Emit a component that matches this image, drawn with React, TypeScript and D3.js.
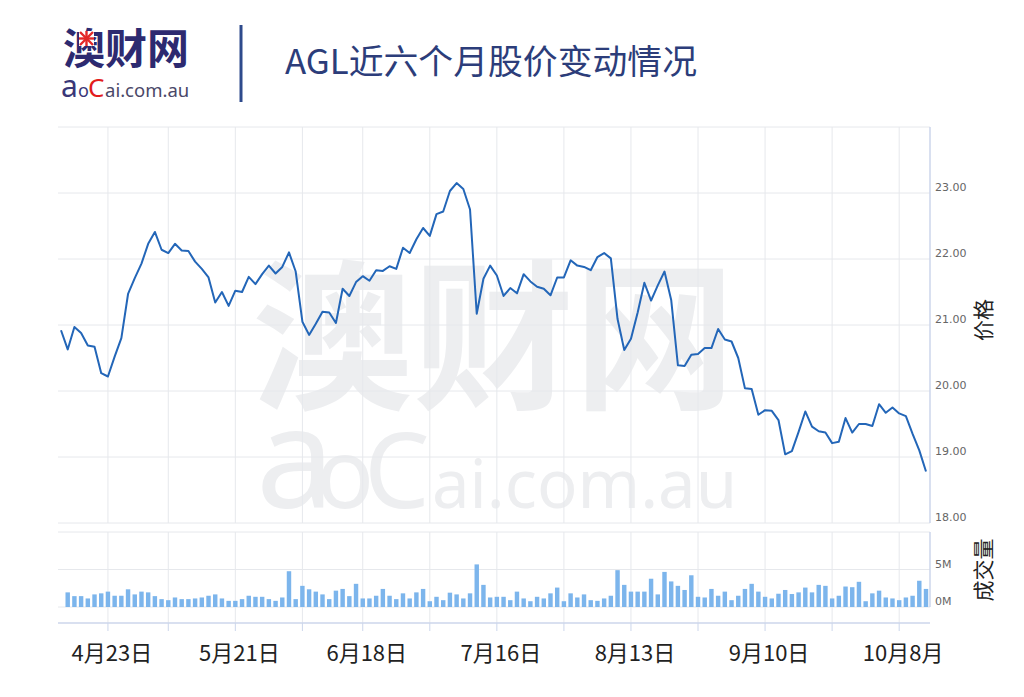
import React from 'react';
import * as d3 from 'd3';

// ASX trading days, 12 Apr – 12 Oct 2018 (Anzac Day and Queen's Birthday closed)
const tradingMonths: [number, number[]][] = [
  [4, [12, 13, 16, 17, 18, 19, 20, 23, 24, 26, 27, 30]],
  [5, [1, 2, 3, 4, 7, 8, 9, 10, 11, 14, 15, 16, 17, 18, 21, 22, 23, 24, 25, 28, 29, 30, 31]],
  [6, [1, 4, 5, 6, 7, 8, 12, 13, 14, 15, 18, 19, 20, 21, 22, 25, 26, 27, 28, 29]],
  [7, [2, 3, 4, 5, 6, 9, 10, 11, 12, 13, 16, 17, 18, 19, 20, 23, 24, 25, 26, 27, 30, 31]],
  [8, [1, 2, 3, 6, 7, 8, 9, 10, 13, 14, 15, 16, 17, 20, 21, 22, 23, 24, 27, 28, 29, 30, 31]],
  [9, [3, 4, 5, 6, 7, 10, 11, 12, 13, 14, 17, 18, 19, 20, 21, 24, 25, 26, 27, 28]],
  [10, [1, 2, 3, 4, 5, 8, 9, 10, 11, 12]],
];
const dates = tradingMonths.flatMap(([m, days]) => days.map((d) => `${m}-${d}`));

// closing price (AUD)
const prices = [
  20.92, 20.63, 20.97, 20.88, 20.69, 20.67, 20.27, 20.22, 20.52, 20.8,
  21.47, 21.71, 21.93, 22.23, 22.41, 22.14, 22.09, 22.23, 22.13, 22.12,
  21.96, 21.85, 21.72, 21.34, 21.5, 21.29, 21.52, 21.5, 21.73, 21.62,
  21.77, 21.9, 21.78, 21.88, 22.1, 21.81, 21.05, 20.85, 21.02, 21.2,
  21.19, 21.03, 21.55, 21.44, 21.65, 21.74, 21.67, 21.83, 21.82, 21.89,
  21.85, 22.17, 22.09, 22.3, 22.47, 22.35, 22.68, 22.72, 23.03, 23.15,
  23.06, 22.75, 21.17, 21.7, 21.9, 21.75, 21.44, 21.56, 21.48, 21.77,
  21.66, 21.58, 21.55, 21.45, 21.72, 21.72, 21.98, 21.9, 21.88, 21.83,
  22.03, 22.09, 22.01, 21.09, 20.62, 20.79, 21.19, 21.64, 21.37, 21.6,
  21.81, 21.38, 20.39, 20.38, 20.55, 20.56, 20.65, 20.65, 20.94, 20.78,
  20.75, 20.5, 20.04, 20.03, 19.64, 19.71, 19.7, 19.56, 19.04, 19.09,
  19.38, 19.69, 19.46, 19.39, 19.37, 19.21, 19.23, 19.59, 19.37, 19.5,
  19.5, 19.47, 19.8, 19.67, 19.75, 19.66, 19.62, 19.35, 19.1, 18.78,
];

// volume (millions of shares)
const volumes = [
  0, 1.95, 1.45, 1.45, 1.14, 1.68, 1.82, 2.05, 1.5, 1.5,
  2.36, 1.68, 2.05, 1.95, 1.45, 1.05, 0.91, 1.27, 1.05, 1.05,
  1.14, 1.27, 1.5, 1.68, 1.14, 0.82, 0.82, 1.05, 1.5, 1.36,
  1.36, 1.05, 0.82, 1.27, 4.77, 1.05, 2.82, 2.36, 2.05, 1.68,
  1.05, 2.18, 2.41, 1.45, 3.09, 1.14, 1.14, 1.5, 2.41, 1.5,
  1.05, 1.82, 1.14, 1.95, 2.41, 0.77, 1.36, 0.91, 1.91, 1.68,
  1.14, 1.82, 5.68, 2.95, 1.27, 1.36, 1.36, 0.91, 2.05, 1.14,
  0.77, 1.36, 1.14, 1.82, 2.59, 0.77, 1.82, 1.27, 1.68, 0.91,
  0.82, 1.14, 1.5, 4.91, 2.95, 2.05, 2.05, 2.05, 3.77, 1.68,
  4.68, 3.41, 2.82, 2.27, 4.23, 1.36, 1.27, 2.41, 1.5, 2.05,
  0.91, 1.5, 2.41, 3.09, 2.05, 1.36, 1.14, 1.77, 2.27, 1.73,
  1.95, 2.59, 1.95, 2.95, 2.82, 1.14, 1.5, 2.73, 2.64, 3.36,
  0.77, 1.82, 2.18, 1.27, 1.14, 0.91, 1.27, 1.5, 3.5, 2.41,
];

const gridDates = ['4-23', '5-7', '5-21', '6-4', '6-18', '7-2', '7-16', '7-30', '8-13', '8-27', '9-10', '9-24', '10-8'];
const labelDates = ['4-23', '5-21', '6-18', '7-16', '8-13', '9-10', '10-8'];
const labelTexts = ['4月23日', '5月21日', '6月18日', '7月16日', '8月13日', '9月10日', '10月8月'];

const priceTicks = [18, 19, 20, 21, 22, 23, 24];
const volumeTicks = [0, 5, 10];
const volumeTickLabels = ['0M', '5M', ''];

const CJK = '"Noto Sans CJK SC", "Noto Sans", sans-serif';
const LATIN = '"Noto Sans", sans-serif';
const NUM = '"DejaVu Sans", sans-serif';

export default function App() {
  const left = 58;
  const right = 930;

  const x = d3.scalePoint<string>().domain(dates).range([61, 926]);
  const yPrice = d3.scaleLinear().domain([18, 24]).range([523, 127]);
  const yVol = d3.scaleLinear().domain([0, 10]).range([607, 532]);
  const barW = x.step() * 0.66;

  const line = d3
    .line<number>()
    .x((_, i) => x(dates[i])!)
    .y((d) => yPrice(d));

  return (
    <div style={{ position: 'absolute', left: 0, top: 0 }}>
      <svg width={1024} height={697} style={{ display: 'block', background: '#fff' }}>
        {/* header: logo */}
        <text x={63} y={64} fontFamily={CJK} fontWeight="bold" fontSize={42} fill="#2d2a70">
          澳财网
        </text>
        <rect x={79} y={31} width={15} height={15} fill="#fff" />
        <g stroke="#e32828" strokeWidth={2.4}>
          <line x1={80} y1={32} x2={93} y2={45} />
          <line x1={93} y1={32} x2={80} y2={45} />
          <line x1={86.5} y1={31} x2={86.5} y2={46} />
          <line x1={79} y1={38.5} x2={94} y2={38.5} />
        </g>
        <text y={97} fontFamily={LATIN}>
          <tspan x={61} fontSize={30} fill="#3a3778">a</tspan>
          <tspan x={78} fontSize={18} fill="#3a3778">o</tspan>
          <tspan x={88} fontSize={26} fill="#e21d1d">C</tspan>
          <tspan x={105} fontSize={18.5} fill="#4a4868">ai.com.au</tspan>
        </text>
        <line x1={241} y1={25} x2={241} y2={102} stroke="#2e4a8c" strokeWidth={3} />
        <text x={285} y={74} fontFamily={CJK} fontSize={34} fill="#2c3d7a" textLength={412} lengthAdjust="spacingAndGlyphs">
          AGL近六个月股价变动情况
        </text>

        {/* watermark */}
        <text fill="#edeef0" fontFamily={LATIN}>
          <tspan x={252} y={397} fontFamily={CJK} fontWeight="bold" fontSize={161}>
            澳财网
          </tspan>
          <tspan x={256} y={508} fontSize={140}>a</tspan>
          <tspan x={316} y={508} fontSize={96}>o</tspan>
          <tspan x={364} y={508} fontSize={104}>C</tspan>
          <tspan x={432} y={508} fontSize={67}>ai.com.au</tspan>
        </text>

        {/* grid */}
        <g stroke="#e6e8ec" strokeWidth={1}>
          {priceTicks.map((t) => (
            <line key={`hp${t}`} x1={left} x2={right} y1={yPrice(t)} y2={yPrice(t)} />
          ))}
          {gridDates.map((d) => (
            <line key={`vp${d}`} x1={x(d)} x2={x(d)} y1={127} y2={523} />
          ))}
          {volumeTicks.map((t) => (
            <line key={`hv${t}`} x1={left} x2={right} y1={yVol(t)} y2={yVol(t)} />
          ))}
          {gridDates.map((d) => (
            <line key={`vv${d}`} x1={x(d)} x2={x(d)} y1={532} y2={623} />
          ))}
        </g>

        {/* axis lines */}
        <g stroke="#ccd6eb" strokeWidth={1.5}>
          <line x1={right} x2={right} y1={127} y2={523} />
          <line x1={right} x2={right} y1={532} y2={607} />
          <line x1={left} x2={right} y1={623} y2={623} />
          {gridDates.map((d) => (
            <line key={`tk${d}`} x1={x(d)} x2={x(d)} y1={623} y2={631} strokeWidth={1} />
          ))}
        </g>

        {/* volume bars */}
        <g fill="#7cb5ec">
          {volumes.map((v, i) =>
            v > 0 ? (
              <rect key={i} x={x(dates[i])! - barW / 2} width={barW} y={yVol(v)} height={yVol(0) - yVol(v)} />
            ) : null
          )}
        </g>

        {/* price line */}
        <path d={line(prices) ?? ''} fill="none" stroke="#2366b8" strokeWidth={2} strokeLinejoin="round" />

        {/* right axis labels */}
        <g fontFamily={NUM} fontSize={11} fill="#666">
          {priceTicks.slice(0, 6).map((t) => (
            <text key={`pl${t}`} x={935} y={yPrice(t) - 2}>
              {d3.format('.2f')(t)}
            </text>
          ))}
          {volumeTicks.map((t, i) => (
            <text key={`vl${t}`} x={935} y={yVol(t) - 2}>
              {volumeTickLabels[i]}
            </text>
          ))}
        </g>
        <text transform="translate(991,320) rotate(-90)" textAnchor="middle" fontFamily={CJK} fontSize={21} fill="#222">
          价格
        </text>
        <text transform="translate(991,570) rotate(-90)" textAnchor="middle" fontFamily={CJK} fontSize={21} fill="#222">
          成交量
        </text>

        {/* x labels */}
        <g fontFamily={CJK} fontSize={22} fill="#222" textAnchor="middle">
          {labelDates.map((d, i) => (
            <text key={d} x={x(d)! + 4} y={661}>
              {labelTexts[i]}
            </text>
          ))}
        </g>
      </svg>
    </div>
  );
}
